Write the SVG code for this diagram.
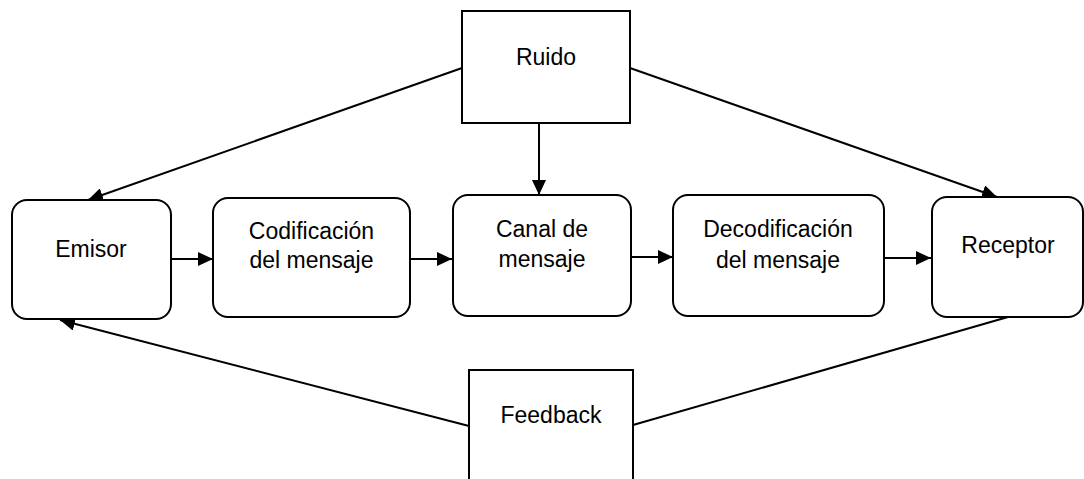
<svg xmlns="http://www.w3.org/2000/svg" width="1084" height="479" viewBox="0 0 1084 479">
<defs>
<marker id="ah" markerUnits="userSpaceOnUse" markerWidth="16" markerHeight="14" refX="15" refY="7" orient="auto">
<path d="M0,0 L15,7 L0,14 Z" fill="#000"/>
</marker>
<style>
.box{fill:#fff;stroke:#000;stroke-width:2}
.t{font-family:"Liberation Sans",Arial,sans-serif;font-size:23px;fill:#000;text-anchor:middle}
.c{stroke:#000;stroke-width:2;fill:none}
.a{marker-end:url(#ah)}
</style>
</defs>
<rect width="1084" height="479" fill="#fff"/>
<g id="connectors">
<line class="c a" x1="171" y1="259" x2="213" y2="259"/>
<line class="c a" x1="410" y1="259" x2="452" y2="259"/>
<line class="c a" x1="632" y1="257" x2="673" y2="257"/>
<line class="c a" x1="885" y1="258" x2="931" y2="258"/>
<line class="c a" x1="539" y1="123" x2="539" y2="195"/>
<line class="c a" x1="462" y1="68" x2="88" y2="200"/>
<line class="c a" x1="630" y1="68" x2="997" y2="197"/>
<line class="c a" x1="469" y1="426" x2="60" y2="320"/>
<line class="c" x1="1008" y1="317" x2="633" y2="425"/>
</g>
<g id="emisor">
<rect class="box" x="12" y="200" width="159" height="119" rx="15"/>
<text class="t" x="91" y="257">Emisor</text>
</g>
<g id="codificacion">
<rect class="box" x="213" y="198" width="197" height="119" rx="15"/>
<text class="t" x="311.5" y="239">Codificación</text>
<text class="t" x="311.5" y="268">del mensaje</text>
</g>
<g id="canal">
<rect class="box" x="453" y="195" width="178" height="121" rx="15"/>
<text class="t" x="542" y="237">Canal de</text>
<text class="t" x="542" y="267">mensaje</text>
</g>
<g id="decodificacion">
<rect class="box" x="673" y="195" width="211" height="121" rx="15"/>
<text class="t" x="778" y="237">Decodificación</text>
<text class="t" x="778" y="268">del mensaje</text>
</g>
<g id="receptor">
<rect class="box" x="932" y="197" width="151" height="120" rx="15"/>
<text class="t" x="1008" y="253">Receptor</text>
</g>
<g id="ruido">
<rect class="box" x="462" y="11" width="168" height="112"/>
<text class="t" x="546" y="65">Ruido</text>
</g>
<g id="feedback">
<rect class="box" x="469" y="370" width="164" height="120"/>
<text class="t" x="551" y="423">Feedback</text>
</g>
</svg>
